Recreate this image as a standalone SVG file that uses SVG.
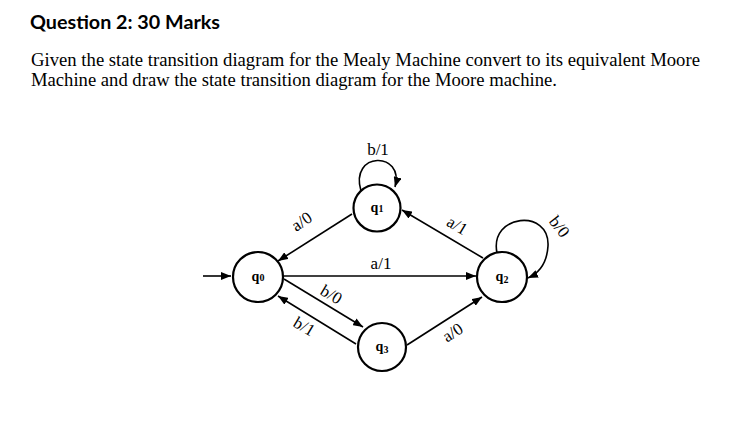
<svg xmlns="http://www.w3.org/2000/svg" width="743" height="421" viewBox="0 0 743 421">
<style>
.h{font-family:Lato,"Liberation Sans",sans-serif;font-weight:bold;font-size:19.5px;fill:#000}
.b{font-family:"Liberation Serif",serif;font-size:18.5px;fill:#000}
.st{fill:#fff;stroke:#000;stroke-width:2.2}
.e{fill:none;stroke:#000;stroke-width:1.6}
.l{font-family:"Liberation Serif",serif;font-size:17px;fill:#000;text-anchor:middle}
.q{font-family:"Liberation Serif",serif;font-weight:bold;font-size:14px;fill:#000;text-anchor:middle}
</style>
<defs>
<marker id="ah" markerUnits="userSpaceOnUse" markerWidth="11" markerHeight="8" refX="10" refY="4" orient="auto">
<path d="M0,0 L10,4 L0,8 z" fill="#000"/>
</marker>
</defs>
<rect width="743" height="421" fill="#fff"/>
<text class="h" x="30" y="29" textLength="190" lengthAdjust="spacingAndGlyphs">Question 2: 30 Marks</text>
<text class="b" x="31" y="66" textLength="669" lengthAdjust="spacingAndGlyphs">Given the state transition diagram for the Mealy Machine convert to its equivalent Moore</text>
<text class="b" x="31" y="86" textLength="526" lengthAdjust="spacingAndGlyphs">Machine and draw the state transition diagram for the Moore machine.</text>
<g id="edges">
<path class="e" d="M203,276 L231,276" marker-end="url(#ah)"/>
<path class="e" d="M352,214 L278,261" marker-end="url(#ah)"/>
<path class="e" d="M483,258 L402,210" marker-end="url(#ah)"/>
<path class="e" d="M283,276 L476,276" marker-end="url(#ah)"/>
<path class="e" d="M284,279 L363,327" marker-end="url(#ah)"/>
<path class="e" d="M356,344 L278,296" marker-end="url(#ah)"/>
<path class="e" d="M407,345 L482,297" marker-end="url(#ah)"/>
<path class="e" d="M361,191 C349,151 405,151 395,187" marker-end="url(#ah)"/>
<path class="e" d="M497,253 C489,214 550,208 548,246 C547,263 539,273 528,278" marker-end="url(#ah)"/>
<text class="l" x="378" y="155">b/1</text>
<text class="l" transform="translate(302,222) rotate(-35)" y="5">a/0</text>
<text class="l" transform="translate(457,226) rotate(31)" y="5">a/1</text>
<text class="l" x="381" y="269">a/1</text>
<text class="l" transform="translate(331,295) rotate(31)" y="5">b/0</text>
<text class="l" transform="translate(304,327) rotate(31)" y="5">b/1</text>
<text class="l" transform="translate(453,333) rotate(-33)" y="5">a/0</text>
<text class="l" transform="translate(559,227) rotate(52)" y="5">b/0</text>
</g>
<g id="q0"><circle class="st" cx="258" cy="277" r="25"/><text class="q" x="258" y="281">q<tspan font-size="10">0</tspan></text></g>
<g id="q1"><circle class="st" cx="377" cy="208" r="23.5"/><text class="q" x="377" y="212">q<tspan font-size="10">1</tspan></text></g>
<g id="q2"><circle class="st" cx="502" cy="277" r="25"/><text class="q" x="502" y="281">q<tspan font-size="10" dy="2">2</tspan></text></g>
<g id="q3"><circle class="st" cx="382" cy="347" r="24"/><text class="q" x="382" y="351">q<tspan font-size="10" dy="2">3</tspan></text></g>
</svg>
